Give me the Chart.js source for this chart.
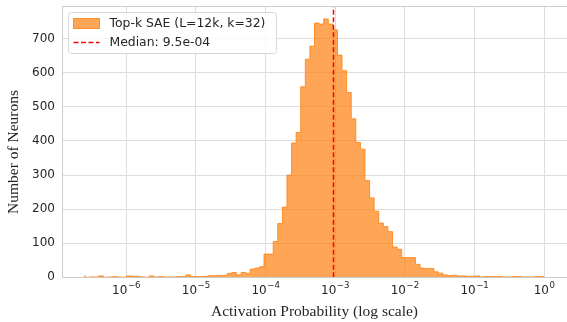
<!DOCTYPE html>
<html>
<head>
<meta charset="utf-8">
<script src="https://cdn.jsdelivr.net/npm/chart.js@4.4.1/dist/chart.umd.min.js"></script>
<style>
    html, body { margin: 0; padding: 0; background: #ffffff; }
</style>
</head>
<body>
<canvas id="activation-chart" width="567" height="322"></canvas>
<script>
// histogram of per-neuron activation probability, 100 log-spaced bins
const bin_log_min = -6.59;
const bin_log_max = 0;
const counts = [
    5, 0, 1, 1, 4, 0, 1, 2, 1, 0,
    4, 3, 3, 1, 0, 4, 1, 2, 1, 1,
    1, 2, 2, 7, 2, 2, 2, 3, 5, 5,
    5, 6, 11, 14, 7, 14, 12, 24, 27, 31,
    68, 68, 105, 158, 206, 300, 394, 425, 559, 640,
    678, 746, 743, 758, 743, 726, 652, 606, 542, 465,
    396, 376, 284, 233, 194, 159, 149, 134, 89, 82,
    58, 58, 58, 38, 27, 26, 26, 16, 12, 7,
    5, 6, 4, 4, 3, 3, 4, 1, 2, 2,
    2, 2, 1, 1, 2, 2, 1, 1, 1, 2
];
const median_value = 9.5e-4;
const x_tick_powers = [-6, -5, -4, -3, -2, -1, 0];
const y_ticks = [0, 100, 200, 300, 400, 500, 600, 700];
const hist_label = "Top-k SAE (L=12k, k=32)";
const median_label = "Median: 9.5e-04";
const x_title = "Activation Probability (log scale)";
const y_title = "Number of Neurons";

const x_min = Math.pow(10, -6.92);
const x_max = Math.pow(10, 0.33);
const y_max = 796;

const fill_color = "rgba(255,127,14,0.7)";
const edge_color = "rgba(255,127,14,0.8)";
const text_color = "#262626";
const grid_color = "#dedede";
const spine_color = "#cccccc";

function step_points() {
    let step = (bin_log_max - bin_log_min) / counts.length;
    let pts = [{ x: Math.pow(10, bin_log_min), y: 0 }];
    for (let i = 0; i < counts.length; i++) {
        pts.push({ x: Math.pow(10, bin_log_min + i * step), y: counts[i] });
    }
    pts.push({ x: Math.pow(10, bin_log_max), y: counts[counts.length - 1] });
    pts.push({ x: Math.pow(10, bin_log_max), y: 0 });
    return pts;
}

// top spine, mathtext-like x tick labels, y title and the legend box
const extras = {
    id: "extras",
    afterDatasetsDraw(chart) {
        const ctx = chart.ctx;
        const a = chart.chartArea;
        ctx.save();
        ctx.strokeStyle = spine_color;
        ctx.lineWidth = 1;
        ctx.beginPath();
        ctx.moveTo(a.left, a.top + 0.5);
        ctx.lineTo(a.right, a.top + 0.5);
        ctx.stroke();

        // x tick labels: 10 with a raised exponent
        const xs = chart.scales.x;
        ctx.fillStyle = text_color;
        ctx.textBaseline = "alphabetic";
        ctx.textAlign = "left";
        x_tick_powers.forEach(p => {
            let base = "10";
            let exp = (p < 0 ? "\u2212" : "") + Math.abs(p);
            ctx.font = "12px 'DejaVu Sans'";
            let wb = ctx.measureText(base).width;
            ctx.font = "8.6px 'DejaVu Sans'";
            let we = ctx.measureText(exp).width;
            let x0 = xs.getPixelForValue(Math.pow(10, p)) - (wb + we) / 2;
            ctx.font = "12px 'DejaVu Sans'";
            ctx.fillText(base, x0, 293.5);
            ctx.font = "8.6px 'DejaVu Sans'";
            ctx.fillText(exp, x0 + wb + 0.5, 288);
        });

        // y axis title
        ctx.save();
        ctx.translate(14, 152);
        ctx.rotate(-Math.PI / 2);
        ctx.textAlign = "center";
        ctx.textBaseline = "middle";
        ctx.font = "15.5px 'Liberation Serif'";
        ctx.fillText(y_title, 0, 0);
        ctx.restore();

        // legend
        let bx = 68.5, by = 12.5, bw = 208, bh = 41;
        ctx.beginPath();
        ctx.roundRect(bx, by, bw, bh, 3);
        ctx.fillStyle = "rgba(255,255,255,0.8)";
        ctx.fill();
        ctx.strokeStyle = "#d6d6d6";
        ctx.stroke();

        ctx.fillStyle = fill_color;
        ctx.fillRect(73.5, 18.5, 26, 10);
        ctx.strokeStyle = edge_color;
        ctx.strokeRect(73.5, 18.5, 26, 10);

        ctx.strokeStyle = "#ff0000";
        ctx.lineWidth = 1.5;
        ctx.setLineDash([5, 2.5]);
        ctx.beginPath();
        ctx.moveTo(73.5, 42.5);
        ctx.lineTo(99.5, 42.5);
        ctx.stroke();
        ctx.setLineDash([]);

        ctx.fillStyle = text_color;
        ctx.font = "12.4px 'DejaVu Sans'";
        ctx.textBaseline = "middle";
        ctx.textAlign = "left";
        ctx.fillText(hist_label, 109.5, 24);
        ctx.fillText(median_label, 109.5, 43);
        ctx.restore();
    }
};

const ctx = document.getElementById("activation-chart");
new Chart(ctx, {
    type: "line",
    data: {
        datasets: [{
            label: hist_label,
            data: step_points(),
            stepped: "after",
            fill: "origin",
            backgroundColor: fill_color,
            borderColor: edge_color,
            borderWidth: 1,
            pointRadius: 0,
            order: 2
        }, {
            label: median_label,
            data: [{ x: median_value, y: 0 }, { x: median_value, y: y_max }],
            borderColor: "#ff0000",
            borderWidth: 1.5,
            borderDash: [5, 2.5],
            pointRadius: 0,
            fill: false,
            order: 1
        }]
    },
    options: {
        responsive: false,
        animation: false,
        layout: { padding: { top: 6, right: 0, bottom: 0, left: 0 } },
        plugins: {
            legend: { display: false },
            tooltip: { enabled: false }
        },
        scales: {
            x: {
                type: "logarithmic",
                min: x_min,
                max: x_max,
                afterBuildTicks: (scale) => {
                    scale.ticks = x_tick_powers.map(p => ({ value: Math.pow(10, p), major: true }));
                },
                afterFit: (scale) => {
                    scale.height = 44.7;
                    scale.paddingLeft = 0;
                    scale.paddingRight = 0;
                },
                ticks: { display: false },
                grid: { color: grid_color, drawTicks: false },
                border: { color: spine_color },
                title: {
                    display: true,
                    text: x_title,
                    color: text_color,
                    font: { family: "Liberation Serif", size: 15.5 },
                    padding: { top: 0, bottom: 0.7 }
                }
            },
            y: {
                min: 0,
                max: y_max,
                afterBuildTicks: (scale) => {
                    scale.ticks = y_ticks.map(v => ({ value: v }));
                },
                afterFit: (scale) => {
                    scale.width = 62;
                    scale.paddingTop = 0;
                    scale.paddingBottom = 0;
                },
                ticks: {
                    color: text_color,
                    font: { family: "DejaVu Sans", size: 12 },
                    padding: 7
                },
                grid: { color: grid_color, drawTicks: false },
                border: { color: spine_color }
            }
        }
    },
    plugins: [extras]
});
</script>
</body>
</html>
